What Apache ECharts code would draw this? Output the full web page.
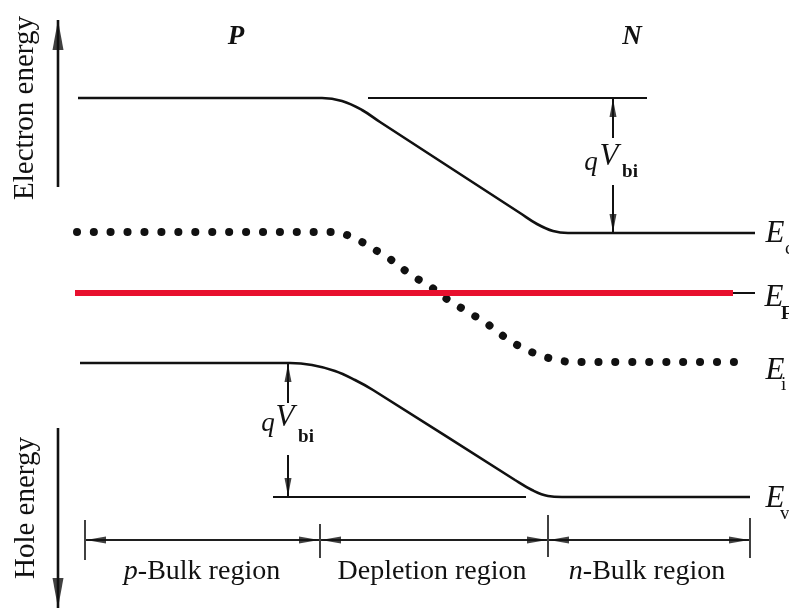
<!DOCTYPE html>
<html><head><meta charset="utf-8">
<script src="https://cdn.jsdelivr.net/npm/echarts@6/dist/echarts.min.js"></script>
<style>html,body{margin:0;padding:0;background:#fff}#c{width:789px;height:611px}</style>
</head><body><div id="c"></div>
<script>
// Diagram coordinates: x = position across the p-n junction, y = level (drawn with an inverted axis)
const xExtent = [0, 789];
const yExtent = [0, 611];

const conductionBand = [[78,98],[322,98],[342,101],[362,110],[380,122],[520,213],[537,224],[553,231],[568,233],[755,233]];
const intrinsicLevel = [[77,232],[332,232],[347,235],[362,242],[377,251],[390,259],[403,269],[416,278],[431,287],[444,297],[458,306],[473,315],[486,323],[499,333],[512,342],[527,350],[542,356],[557,360],[573,362],[740,362]];
const fermiLevel = [[75,293],[733,293]];
const fermiLeader = [[733,293],[755,293]];
const valenceBand = [[80,363],[290,363],[312,365],[335,371],[355,380],[373,390],[515,480],[532,490],[548,496],[562,497],[750,497]];
const topReference = [[368,98],[647,98]];
const bottomReference = [[273,497],[526,497]];

// arrows: [fromX, fromY, tipX, tipY]
const energyAxisArrows = [[58,187,58,20],[58,428,58,608]];
const builtInArrows = [[613,138,613,99],[613,185,613,232],[288,403,288,364],[288,455,288,496]];
const regionBounds = [85, 320, 548, 750];
const regionLineY = 540;
const regionTicks = [[85,520,560],[320,524,558],[548,515,557],[750,518,558]];
const regionLabels = ['{i|p}-Bulk region', 'Depletion region', '{i|n}-Bulk region'];
const sideLabels = ['P', 'N'];
const levelNames = ['c', 'F', 'i', 'v'];

const BLACK = '#111';
const RED = '#e8102e';
const SERIF = '"Liberation Serif","DejaVu Serif",serif';

function seg(data, width, color, extra) {
  return Object.assign({
    type: 'line', data: data, symbol: 'none', silent: true, animation: false, clip: false,
    lineStyle: { width: width, color: color, cap: 'butt' }, z: 3
  }, extra || {});
}

function heads(tips, dir, len, wid) {
  const paths = {
    up: 'path://M5,0L10,24L0,24Z', down: 'path://M0,0L10,0L5,24Z',
    left: 'path://M0,5L24,0L24,10Z', right: 'path://M0,0L24,5L0,10Z'
  };
  const vertical = dir === 'up' || dir === 'down';
  const off = { up: [0, len/2], down: [0, -len/2], left: [len/2, 0], right: [-len/2, 0] }[dir];
  return {
    type: 'scatter', data: tips, symbol: paths[dir], symbolSize: vertical ? [wid, len] : [len, wid],
    symbolOffset: off, itemStyle: { color: BLACK }, silent: true, animation: false, clip: false, z: 4
  };
}

function arrowSeries(list, lineW, len, wid) {
  const out = [];
  const groups = { up: [], down: [], left: [], right: [] };
  list.forEach(a => {
    out.push(seg([[a[0], a[1]], [a[2], a[3]]], lineW, BLACK));
    let d;
    if (a[0] === a[2]) d = a[3] < a[1] ? 'up' : 'down'; else d = a[2] < a[0] ? 'left' : 'right';
    groups[d].push([a[2], a[3]]);
  });
  Object.keys(groups).forEach(k => { if (groups[k].length) out.push(heads(groups[k], k, len, wid)); });
  return out;
}

const series = [];
series.push(seg(conductionBand, 2.6, BLACK, { smooth: 0.4 }));
series.push(seg(valenceBand, 2.6, BLACK, { smooth: 0.4 }));
series.push(seg(intrinsicLevel, 8, BLACK, { smooth: 0.35, lineStyle: { width: 8, color: BLACK, type: [0.1, 16.8], cap: 'round' } }));
series.push(seg(fermiLevel, 6, RED));
series.push(seg(fermiLeader, 2, BLACK));
series.push(seg(topReference, 2, BLACK));
series.push(seg(bottomReference, 2, BLACK));
arrowSeries(energyAxisArrows, 2.6, 30, 11).forEach(s => series.push(s));
arrowSeries(builtInArrows, 2, 18, 7).forEach(s => series.push(s));
const regionArrows = [];
for (let i = 0; i < regionBounds.length - 1; i++) {
  const a = regionBounds[i], b = regionBounds[i + 1];
  regionArrows.push([b - 1, regionLineY, a + 1, regionLineY]);
  regionArrows.push([a + 1, regionLineY, b - 1, regionLineY]);
}
arrowSeries(regionArrows, 1.6, 20, 7).forEach(s => series.push(s));
regionTicks.forEach(t => series.push(seg([[t[0], t[1]], [t[0], t[2]]], 1.6, BLACK)));

function txt(text, x, y, font, opts) {
  return Object.assign({
    type: 'text', x: x, y: y, z: 10, silent: true,
    style: Object.assign({ text: text, font: font, fill: BLACK, align: 'center', verticalAlign: 'middle',
      textAlign: 'center', textVerticalAlign: 'middle' }, (opts && opts.style) || {})
  }, (opts && opts.el) || {});
}

const graphics = [];
graphics.push(txt('Electron energy', 25, 108, '29px ' + SERIF, { el: { rotation: Math.PI / 2 } }));
graphics.push(txt('Hole energy', 26, 508, '29px ' + SERIF, { el: { rotation: Math.PI / 2 } }));
graphics.push(txt(sideLabels[0], 236, 37, 'italic bold 27px ' + SERIF));
graphics.push(txt(sideLabels[1], 632, 37, 'italic bold 27px ' + SERIF));
// qV_bi labels
[[591, 163, 609, 157, 630, 172], [268, 424, 285, 418, 306, 437]].forEach(p => {
  graphics.push(txt('q', p[0], p[1], 'italic 27px ' + SERIF));
  graphics.push(txt('V', p[2], p[3], 'italic 31px ' + SERIF));
  graphics.push(txt('bi', p[4], p[5], 'bold 19px ' + SERIF));
});
// band labels
const levelLabelPos = [[775, 234, 785, 249], [774, 298, 781, 314], [775, 371, 781, 385], [775, 499, 780, 514]];
levelLabelPos.forEach((p, i) => {
  graphics.push(txt('E', p[0], p[1], 'italic 31px ' + SERIF));
  graphics.push(txt(levelNames[i], p[2], p[3], (i === 1 ? 'bold ' : '') + '19px ' + SERIF, { style: { align: 'left', textAlign: 'left' } }));
});
// region labels
const regionCenters = [202, 432, 647];
regionLabels.forEach((t, i) => {
  graphics.push(txt(t, regionCenters[i], 572, '28px ' + SERIF, { style: { rich: { i: { font: 'italic 28px ' + SERIF, fill: BLACK } } } }));
});

const chart = echarts.init(document.getElementById('c'), null, { renderer: 'canvas' });
chart.setOption({
  backgroundColor: '#fff',
  animation: false,
  grid: { left: 0, right: 0, top: 0, bottom: 0, containLabel: false },
  xAxis: { type: 'value', min: xExtent[0], max: xExtent[1], show: false },
  yAxis: { type: 'value', min: yExtent[0], max: yExtent[1], inverse: true, show: false },
  series: series,
  graphic: graphics
});
</script></body></html>
